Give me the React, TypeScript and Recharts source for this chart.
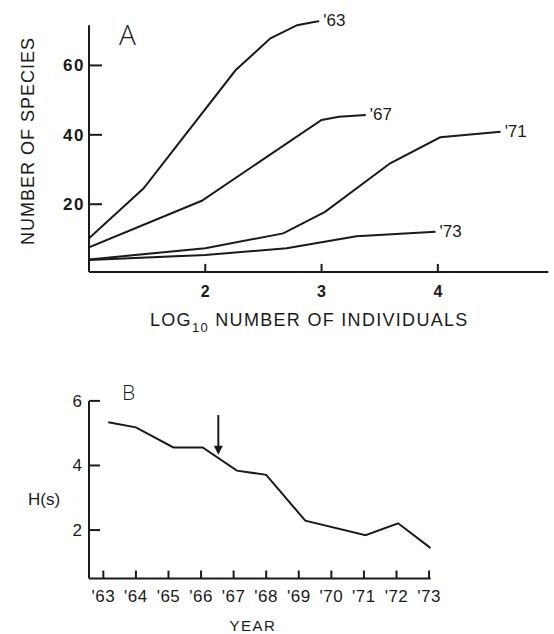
import { LineChart, Line, XAxis, YAxis, ReferenceLine } from 'recharts';

// panel A: number of species vs log10 number of individuals, one curve per year
const seriesNames = ["'63", "'67", "'71", "'73"];
const logInd63 = [1, 1.47, 2.26, 2.56, 2.79, 2.98];
const species63 = [10.2, 24.6, 58.6, 67.8, 71.6, 72.8];
const logInd67 = [1, 1.97, 3.0, 3.15, 3.38];
const species67 = [7.6, 21, 44.3, 45.2, 45.7];
const logInd71 = [1, 2.0, 2.67, 3.03, 3.59, 4.02, 4.54];
const species71 = [4.1, 7.3, 11.6, 17.8, 31.8, 39.3, 40.9];
const logInd73 = [1, 2.0, 2.7, 3.3, 3.98];
const species73 = [3.9, 5.4, 7.3, 10.8, 12.1];
const logTicks = [2, 3, 4];
const speciesTicks = [20, 40, 60];

// panel B: diversity H(s) by year
const years = [63.15, 64, 65.15, 66.05, 67.1, 68, 69.2, 71.05, 72.05, 73.05];
const diversity = [5.34, 5.18, 4.56, 4.56, 3.84, 3.71, 2.29, 1.84, 2.21, 1.44];
const yearTicks = [63, 64, 65, 66, 67, 68, 69, 70, 71, 72, 73];
const diversityTicks = [2, 4, 6];
const arrowYear = 66.53;
const arrowFrom = 5.56;
const arrowTo = 4.33;

const INK = '#1a1a1a';
const FONT = '"Liberation Sans", Arial, sans-serif';
const THIN_FONT = '"Open Sans", "Liberation Sans", sans-serif';

const toPoints = (xs: number[], ys: number[]) => xs.map((x, i) => ({ x, y: ys[i] }));
const curves = [
  toPoints(logInd63, species63),
  toPoints(logInd67, species67),
  toPoints(logInd71, species71),
  toPoints(logInd73, species73),
];
const hData = toPoints(years, diversity);

const endLabel = (name: string, last: number) => (props: any) => {
  if (props.index !== last) return null;
  return (
    <text x={props.x + 4} y={props.y + 5} fontSize={17} fill={INK} fontFamily={FONT}>
      {name}
    </text>
  );
};

const TopXTick = ({ x, y, payload }: any) => (
  <g>
    <line x1={x} x2={x} y1={y} y2={y - 8} stroke={INK} strokeWidth={2} />
    <text x={x} y={y + 25} textAnchor="middle" fontSize={16} fontWeight="bold" fill={INK} fontFamily={FONT}>
      {payload.value}
    </text>
  </g>
);

const TopYTick = ({ x, y, payload }: any) => (
  <g>
    <line x1={x} x2={x + 13} y1={y} y2={y} stroke={INK} strokeWidth={2} />
    <text x={x - 4} y={y} dy="0.35em" textAnchor="end" fontSize={17} fontWeight="bold" letterSpacing={1.5} fill={INK} fontFamily={FONT}>
      {payload.value}
    </text>
  </g>
);

const BottomXTick = ({ x, y, payload }: any) => (
  <g>
    <line x1={x} x2={x} y1={y} y2={y - 8} stroke={INK} strokeWidth={2} />
    <text x={x} y={y + 23} textAnchor="middle" fontSize={17} letterSpacing={0.5} fill={INK} fontFamily={FONT}>
      {"'" + payload.value}
    </text>
  </g>
);

const BottomYTick = ({ x, y, payload }: any) => (
  <g>
    <line x1={x} x2={x + 11} y1={y} y2={y} stroke={INK} strokeWidth={2} />
    <text x={x - 7} y={y} dy="0.35em" textAnchor="end" fontSize={17} fill={INK} fontFamily={FONT}>
      {payload.value}
    </text>
  </g>
);

const Arrow = (props: any) => {
  const { x1, y1, x2, y2 } = props;
  return (
    <g>
      <line x1={x1} y1={y1} x2={x2} y2={y2 - 8} stroke={INK} strokeWidth={2} />
      <polygon points={`${x2 - 4.5},${y2 - 9} ${x2 + 4.5},${y2 - 9} ${x2},${y2}`} fill={INK} />
    </g>
  );
};

export default function App() {
  return (
    <div style={{ position: 'absolute', left: 0, top: 0, width: 554, height: 634, background: '#fff' }}>
      <div style={{ position: 'absolute', left: 0, top: 0 }}>
        <LineChart width={554} height={300} margin={{ top: 20.3, right: 5.7, bottom: 0, left: 0 }}>
          <XAxis
            type="number"
            dataKey="x"
            domain={[1, 4.95]}
            ticks={logTicks}
            allowDataOverflow
            height={28.1}
            tickSize={0}
            tickMargin={0}
            tickLine={false}
            axisLine={{ stroke: INK, strokeWidth: 2 }}
            tick={<TopXTick />}
          />
          <YAxis
            type="number"
            dataKey="y"
            domain={[0.5, 73]}
            ticks={speciesTicks}
            allowDataOverflow
            width={89}
            tickSize={0}
            tickMargin={0}
            tickLine={false}
            axisLine={false}
            tick={<TopYTick />}
          />
          <ReferenceLine segment={[{ x: 1, y: 0.5 }, { x: 1, y: 71.6 }]} stroke={INK} strokeWidth={2} />
          {curves.map((pts, i) => (
            <Line
              key={seriesNames[i]}
              data={pts}
              dataKey="y"
              type="linear"
              stroke={INK}
              strokeWidth={2}
              dot={false}
              isAnimationActive={false}
              label={endLabel(seriesNames[i], pts.length - 1)}
            />
          ))}
        </LineChart>
      </div>

      <div style={{ position: 'absolute', left: 0, top: 380 }}>
        <LineChart width={554} height={254} data={hData} margin={{ top: 20.9, right: 123.3, bottom: 0, left: 0 }}>
          <XAxis
            type="number"
            dataKey="x"
            domain={[62.56, 73.05]}
            ticks={yearTicks}
            allowDataOverflow
            height={55.5}
            tickSize={0}
            tickMargin={0}
            tickLine={false}
            axisLine={{ stroke: INK, strokeWidth: 2 }}
            tick={<BottomXTick />}
          />
          <YAxis
            type="number"
            domain={[0.5, 6]}
            ticks={diversityTicks}
            allowDataOverflow
            width={89}
            tickSize={0}
            tickMargin={0}
            tickLine={false}
            axisLine={{ stroke: INK, strokeWidth: 2 }}
            tick={<BottomYTick />}
          />
          <ReferenceLine
            segment={[{ x: arrowYear, y: arrowFrom }, { x: arrowYear, y: arrowTo }]}
            stroke={INK}
            shape={Arrow}
          />
          <Line dataKey="y" type="linear" stroke={INK} strokeWidth={2} dot={false} isAnimationActive={false} />
        </LineChart>
      </div>

      <svg width={554} height={634} style={{ position: 'absolute', left: 0, top: 0, pointerEvents: 'none' }}>
        <g fontFamily={FONT} fill={INK}>
          <text x={119} y={45} fontSize={28} fontWeight={300} fontFamily={THIN_FONT}>A</text>
          <text
            transform="translate(34,141) rotate(-90)"
            textAnchor="middle"
            fontSize={18}
            letterSpacing={1}
          >
            NUMBER OF SPECIES
          </text>
          <text x={150} y={326} fontSize={18} letterSpacing={1.3}>
            LOG<tspan fontSize={13} dy={6}>10</tspan>
            <tspan dy={-6}> NUMBER OF INDIVIDUALS</tspan>
          </text>
          <text x={122} y={400} fontSize={21} fontWeight={300} fontFamily={THIN_FONT}>B</text>
          <text x={28} y={505} fontSize={17}>H(s)</text>
          <text x={253} y={631} textAnchor="middle" fontSize={15} letterSpacing={1.5}>YEAR</text>
        </g>
      </svg>
    </div>
  );
}
